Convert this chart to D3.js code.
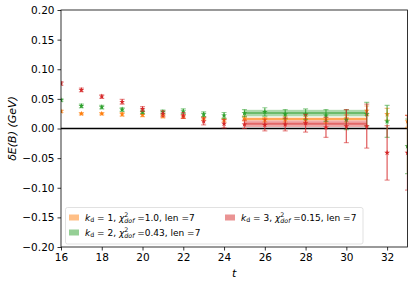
<!DOCTYPE html>
<html>
<head>
<meta charset="utf-8">
<script src="https://cdn.jsdelivr.net/npm/d3@7"></script>
<style>
  body { margin: 0; background: #fff; }
  svg { font-family: "DejaVu Sans", sans-serif; }
</style>
</head>
<body>
<svg id="chart" width="415" height="285"></svg>
<script>
// time slices
const tVals = [16, 17, 18, 19, 20, 21, 22, 23, 24, 25, 26, 27, 28, 29, 30, 31, 32, 33];

// k_d = 1 (orange)
const kd1Vals = [0.029, 0.025, 0.025, 0.024, 0.023, 0.021, 0.020, 0.017, 0.014, 0.017, 0.015, 0.016, 0.016, 0.014, 0.017, 0.030, 0.024, 0.012];
const kd1Errs = [0.002, 0.002, 0.002, 0.003, 0.003, 0.003, 0.003, 0.003, 0.003, 0.004, 0.004, 0.005, 0.005, 0.005, 0.006, 0.008, 0.010, 0.010];
// k_d = 2 (green)
const kd2Vals = [0.048, 0.038, 0.036, 0.032, 0.028, 0.028, 0.029, 0.024, 0.022, 0.026, 0.028, 0.024, 0.024, 0.022, 0.015, 0.024, 0.012, -0.030];
const kd2Errs = [0.002, 0.003, 0.003, 0.003, 0.003, 0.003, 0.004, 0.004, 0.005, 0.006, 0.007, 0.008, 0.009, 0.010, 0.017, 0.020, 0.027, 0.046];
// k_d = 3 (red)
const kd3Vals = [0.076, 0.065, 0.054, 0.045, 0.033, 0.025, 0.022, 0.012, 0.008, 0.007, 0.006, 0.007, 0.009, 0.002, 0.004, 0.004, -0.041, -0.041];
const kd3Errs = [0.003, 0.003, 0.003, 0.004, 0.004, 0.005, 0.005, 0.006, 0.007, 0.007, 0.010, 0.011, 0.015, 0.017, 0.028, 0.037, 0.046, 0.063];

// fit bands: [tStart, tEnd], value, error
const fitRange = [25, 31];
const fitVals = [0.016, 0.026, 0.008];
const fitErrs = [0.0025, 0.0055, 0.0055];
const chi2 = ["1.0", "0.43", "0.15"];
const kdLabels = [1, 2, 3];
const colors = ["#ff7f0e", "#2ca02c", "#d62728"];

const xTicks = [16, 18, 20, 22, 24, 26, 28, 30, 32];
const yTicks = [-0.20, -0.15, -0.10, -0.05, 0.00, 0.05, 0.10, 0.15, 0.20];

const series = [
    { vals: kd1Vals, errs: kd1Errs },
    { vals: kd2Vals, errs: kd2Errs },
    { vals: kd3Vals, errs: kd3Errs },
];

const svg = d3.select("#chart");
const margin = { left: 61, right: 7.5, top: 10, bottom: 38 };
const width = 415, height = 285;

const x = d3.scaleLinear().domain([16, 33]).range([margin.left, width - margin.right]);
const y = d3.scaleLinear().domain([-0.20, 0.20]).range([height - margin.bottom, margin.top]);

svg.append("clipPath").attr("id", "plotClip")
    .append("rect")
    .attr("x", margin.left).attr("y", margin.top)
    .attr("width", x.range()[1] - x.range()[0])
    .attr("height", y.range()[0] - y.range()[1]);

const plot = svg.append("g").attr("clip-path", "url(#plotClip)");

// fit bands
fitVals.forEach((v, i) => {
    const e = fitErrs[i];
    plot.append("rect")
        .attr("x", x(fitRange[0]))
        .attr("width", x(fitRange[1]) - x(fitRange[0]))
        .attr("y", y(v + e))
        .attr("height", y(v - e) - y(v + e))
        .attr("fill", colors[i])
        .attr("fill-opacity", 0.4);
    plot.append("line")
        .attr("x1", x(fitRange[0])).attr("x2", x(fitRange[1]))
        .attr("y1", y(v)).attr("y2", y(v))
        .attr("stroke", colors[i])
        .attr("stroke-opacity", 0.5)
        .attr("stroke-width", 2);
});

// zero line
plot.append("line")
    .attr("x1", x(16)).attr("x2", x(33))
    .attr("y1", y(0)).attr("y2", y(0))
    .attr("stroke", "#000")
    .attr("stroke-width", 1.5);

// error bars and markers
const capW = 2.5;
series.forEach((s, si) => {
    const g = plot.append("g");
    tVals.forEach((t, i) => {
        const cx = x(t);
        const top = y(s.vals[i] + s.errs[i]);
        const bot = y(s.vals[i] - s.errs[i]);
        g.append("line")
            .attr("x1", cx).attr("x2", cx)
            .attr("y1", top).attr("y2", bot)
            .attr("stroke", colors[si])
            .attr("stroke-opacity", 0.7)
            .attr("stroke-width", 1.3);
        [top, bot].forEach(cy => {
            g.append("line")
                .attr("x1", cx - capW).attr("x2", cx + capW)
                .attr("y1", cy).attr("y2", cy)
                .attr("stroke", colors[si])
                .attr("stroke-opacity", 0.5)
                .attr("stroke-width", 1.2);
        });
    });
    g.selectAll("path.marker")
        .data(tVals)
        .join("path")
        .attr("class", "marker")
        .attr("d", d3.symbol(d3.symbolStar, 10))
        .attr("transform", (t, i) => `translate(${x(t)},${y(s.vals[i])})`)
        .attr("fill", colors[si]);
});

// axes
const xAxis = svg.append("g")
    .attr("transform", `translate(0,${y.range()[0]})`)
    .call(d3.axisBottom(x).tickValues(xTicks).tickSize(3.5).tickPadding(3).tickFormat(d3.format("d")));
const yAxis = svg.append("g")
    .attr("transform", `translate(${margin.left},0)`)
    .call(d3.axisLeft(y).tickValues(yTicks).tickSize(3.5).tickPadding(3)
        .tickFormat(d => d3.format(".2f")(d).replace("-", "\u2212")));
[xAxis, yAxis].forEach(a => {
    a.select(".domain").remove();
    a.selectAll("text").attr("font-size", 10.5).attr("fill", "#000")
        .attr("font-family", "DejaVu Sans, sans-serif");
    a.selectAll("line").attr("stroke", "#000").attr("stroke-width", 0.8);
});

// frame
svg.append("rect")
    .attr("x", margin.left).attr("y", margin.top)
    .attr("width", x.range()[1] - x.range()[0])
    .attr("height", y.range()[0] - y.range()[1])
    .attr("fill", "none")
    .attr("stroke", "#000")
    .attr("stroke-width", 0.8);

// axis labels
svg.append("text")
    .attr("x", x(24.5)).attr("y", 277)
    .attr("text-anchor", "middle")
    .attr("font-size", 11)
    .attr("font-style", "italic")
    .text("t");

svg.append("text")
    .attr("transform", `translate(16,${(y.range()[0] + y.range()[1]) / 2}) rotate(-90)`)
    .attr("text-anchor", "middle")
    .attr("font-size", 11)
    .attr("font-style", "italic")
    .text("\u03B4E(B)  (GeV)");

// legend
const legend = svg.append("g");
legend.append("rect")
    .attr("x", 65.5).attr("y", 207.5)
    .attr("width", 297.5).attr("height", 36.5)
    .attr("rx", 2)
    .attr("fill", "#fff").attr("fill-opacity", 0.8)
    .attr("stroke", "#d9d9d9").attr("stroke-width", 0.8);

const legendPos = [[69, 217.5], [69, 232.5], [225, 217.5]];
kdLabels.forEach((kd, i) => {
    const [lx, ly] = legendPos[i];
    legend.append("rect")
        .attr("x", lx).attr("y", ly - 3)
        .attr("width", 10).attr("height", 6)
        .attr("fill", colors[i]).attr("fill-opacity", 0.5);
    const txt = legend.append("text")
        .attr("x", lx + 16).attr("y", ly + 3)
        .attr("font-size", 9)
        .attr("fill", "#000");
    txt.append("tspan").attr("font-style", "italic").text("k");
    txt.append("tspan").attr("font-size", 6.3).attr("dy", 1.5).text("d");
    txt.append("tspan").attr("dy", -1.5).text(` = ${kd}, `);
    txt.append("tspan").attr("font-style", "italic").text("\u03C7");
    txt.append("tspan").attr("font-size", 6.3).attr("dy", -3.8).text("2");
    txt.append("tspan").attr("font-size", 6.3).attr("font-style", "italic").attr("dx", -4).attr("dy", 5.9).text("dof");
    txt.append("tspan").attr("dy", -2.1).text(` =${chi2[i]}, len =7`);
});
</script>
</body>
</html>
